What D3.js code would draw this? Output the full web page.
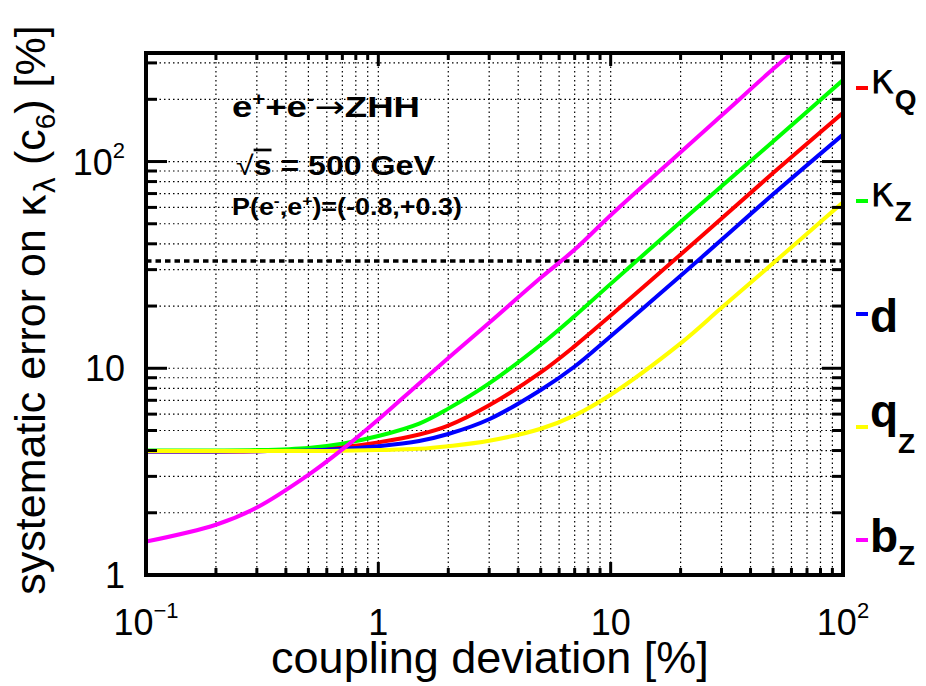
<!DOCTYPE html>
<html>
<head>
<meta charset="utf-8">
<script src="https://d3js.org/d3.v7.min.js"></script>
<style>
  body { margin: 0; background: #fff; }
  text { font-family: "Liberation Sans", Arial, sans-serif; }
  .greek { font-family: "DejaVu Sans", sans-serif; }
</style>
</head>
<body>
<svg width="926" height="686"></svg>
<script>
    // values: coupling deviation [%] -> systematic error [%]
    var xVals  = [0.1, 0.2, 0.3, 0.5, 0.7, 1, 1.5, 2, 3, 5, 7, 10, 20, 30, 50, 100];
    var kappaQ = [3.96, 3.96, 3.97, 4.03, 4.15, 4.38, 4.78, 5.28, 6.62, 9.55, 12.8, 18, 35.5, 53, 88, 172];
    var kappaZ = [4.0, 4.0, 4.02, 4.12, 4.32, 4.7, 5.4, 6.38, 8.45, 13.0, 17.9, 25.6, 51, 76, 125, 248];
    var dVals  = [3.96, 3.96, 3.97, 4.0, 4.08, 4.2, 4.45, 4.81, 5.67, 7.85, 10.2, 14.3, 28, 41.8, 69.4, 135];
    var qZ     = [3.98, 3.98, 3.98, 3.98, 3.99, 4.02, 4.08, 4.2, 4.46, 5.1, 5.92, 7.45, 13.2, 19.6, 32.2, 63.5];
    var bZx    = [0.1, 0.2, 0.3, 0.5, 0.7, 1, 1.5, 2, 3, 5, 7, 10, 20, 30, 50, 60.4];
    var bZ     = [1.45, 1.75, 2.12, 3.05, 4.05, 5.65, 8.45, 11.2, 16.6, 27.4, 37.5, 55, 111, 167, 280, 335];
    var threshold = 33;

    var seriesNames  = ["\u03ba", "\u03ba", "d", "q", "b"];
    var seriesSubs   = ["Q", "Z", "", "Z", "Z"];
    var seriesColors = ["#ff0000", "#00ff00", "#0000ff", "#ffff00", "#ff00ff"];

    var xTickVals = [0.1, 1, 10, 100];
    var xTickBase = ["10", "1", "10", "10"];
    var xTickSup  = ["\u22121", "", "", "2"];
    var yTickVals = [1, 10, 100];
    var yTickBase = ["1", "10", "10"];
    var yTickSup  = ["", "", "2"];

    var svg = d3.select("svg");
    var pLeft = 146, pRight = 843, pTop = 53, pBottom = 575;

    var x = d3.scaleLog().domain([0.1, 100]).range([pLeft, pRight]);
    var y = d3.scaleLog().domain([1, 335]).range([pBottom, pTop]);

    function isMajor(v) { var l = Math.log10(v); return Math.abs(l - Math.round(l)) < 1e-6; }

    svg.append("defs").append("clipPath").attr("id", "plot")
       .append("rect").attr("x", pLeft).attr("y", pTop)
       .attr("width", pRight - pLeft).attr("height", pBottom - pTop);

    var xInner = x.ticks().filter(function(v) { return v > 0.1 && v < 100; });
    var yInner = y.ticks().filter(function(v) { return v > 1; });

    // dotted grid
    var grid = svg.append("g").attr("stroke", "#000").attr("stroke-width", 1.2)
                  .attr("stroke-dasharray", "1.5,3");
    grid.selectAll(".gx").data(xInner).enter().append("line")
        .attr("x1", function(d) { return x(d); }).attr("x2", function(d) { return x(d); })
        .attr("y1", pTop).attr("y2", pBottom);
    grid.selectAll(".gy").data(yInner).enter().append("line")
        .attr("y1", function(d) { return y(d); }).attr("y2", function(d) { return y(d); })
        .attr("x1", pLeft).attr("x2", pRight);

    // threshold line
    svg.append("line")
       .attr("x1", pLeft).attr("x2", pRight)
       .attr("y1", y(threshold)).attr("y2", y(threshold))
       .attr("stroke", "#000").attr("stroke-width", 3.5).attr("stroke-dasharray", "5.5,4");

    // curves
    var line = d3.line()
                 .x(function(d) { return x(d[0]); })
                 .y(function(d) { return y(d[1]); })
                 .curve(d3.curveCatmullRom);

    var curves = [
        d3.zip(xVals, kappaQ),
        d3.zip(xVals, kappaZ),
        d3.zip(xVals, dVals),
        d3.zip(xVals, qZ),
        d3.zip(bZx, bZ)
    ];

    svg.append("g").attr("clip-path", "url(#plot)")
       .selectAll("path").data(curves).enter().append("path")
       .attr("d", line)
       .attr("fill", "none")
       .attr("stroke", function(d, i) { return seriesColors[i]; })
       .attr("stroke-width", 4);

    // ticks, inward on all four sides
    var ticks = svg.append("g").attr("stroke", "#000").attr("stroke-width", 3);
    xInner.forEach(function(v) {
        var len = isMajor(v) ? 13 : 7;
        ticks.append("line").attr("x1", x(v)).attr("x2", x(v)).attr("y1", pBottom).attr("y2", pBottom - len);
        ticks.append("line").attr("x1", x(v)).attr("x2", x(v)).attr("y1", pTop).attr("y2", pTop + len);
    });
    yInner.forEach(function(v) {
        var len = isMajor(v) ? 21 : 11;
        ticks.append("line").attr("y1", y(v)).attr("y2", y(v)).attr("x1", pLeft).attr("x2", pLeft + len);
        ticks.append("line").attr("y1", y(v)).attr("y2", y(v)).attr("x1", pRight).attr("x2", pRight - len);
    });

    // frame
    svg.append("rect")
       .attr("x", pLeft).attr("y", pTop)
       .attr("width", pRight - pLeft).attr("height", pBottom - pTop)
       .attr("fill", "none").attr("stroke", "#000").attr("stroke-width", 4);

    // tick labels
    xTickVals.forEach(function(v, i) {
        var t = svg.append("text").attr("x", x(v)).attr("y", 635)
                   .attr("text-anchor", "middle").attr("font-size", 36);
        t.append("tspan").text(xTickBase[i]);
        if (xTickSup[i]) t.append("tspan").attr("font-size", 22).attr("dy", -17).text(xTickSup[i]);
    });
    yTickVals.forEach(function(v, i) {
        var t = svg.append("text").attr("x", 125).attr("y", y(v) + 13)
                   .attr("text-anchor", "end").attr("font-size", 36);
        t.append("tspan").text(yTickBase[i]);
        if (yTickSup[i]) t.append("tspan").attr("font-size", 22).attr("dy", -17).text(yTickSup[i]);
    });

    // axis titles
    svg.append("text").attr("x", 490).attr("y", 673)
       .attr("text-anchor", "middle").attr("font-size", 45)
       .text("coupling deviation [%]");

    var yt = svg.append("text").attr("transform", "translate(45,310) rotate(-90)")
                .attr("text-anchor", "middle").attr("font-size", 43);
    yt.append("tspan").text("systematic error on ");
    yt.append("tspan").attr("class", "greek").attr("font-size", 40).text("\u03ba");
    yt.append("tspan").attr("class", "greek").attr("font-size", 28).attr("dy", 10).text("\u03bb");
    yt.append("tspan").attr("dy", -10).text(" (c");
    yt.append("tspan").attr("font-size", 28).attr("dy", 10).text("6");
    yt.append("tspan").attr("dy", -10).text(") [%]");

    // annotation text, stretched to the reference width
    function fit(sel, px, py, w) {
        var bb = sel.node().getBBox();
        var s = w / bb.width;
        sel.attr("transform", "translate(" + (px - bb.x * s) + "," + py + ") scale(" + s + ",1)");
    }

    var t1 = svg.append("text").attr("font-size", 30).attr("font-weight", "bold");
    t1.append("tspan").text("e");
    t1.append("tspan").attr("font-size", 18).attr("dy", -12).text("+");
    t1.append("tspan").attr("dy", 12).text("+e");
    t1.append("tspan").attr("font-size", 18).attr("dy", -12).text("-");
    t1.append("tspan").attr("dy", 12).attr("font-weight", "normal").attr("class", "greek").text("\u2192");
    t1.append("tspan").text("ZHH");
    fit(t1, 232, 117, 188);

    var t2 = svg.append("text").attr("font-size", 27).attr("font-weight", "bold");
    t2.append("tspan").attr("font-weight", "normal").text("\u221a");
    t2.append("tspan").style("text-decoration", "overline").text("s");
    t2.append("tspan").text(" = 500 GeV");
    fit(t2, 236, 175, 199);

    var t3 = svg.append("text").attr("font-size", 23).attr("font-weight", "bold");
    t3.append("tspan").text("P(e");
    t3.append("tspan").attr("font-size", 15).attr("dy", -9).text("-");
    t3.append("tspan").attr("dy", 9).text(",e");
    t3.append("tspan").attr("font-size", 15).attr("dy", -9).text("+");
    t3.append("tspan").attr("dy", 9).text(")=(-0.8,+0.3)");
    fit(t3, 232, 215, 230);

    // legend on the right
    var mainDy = [5, 5, 18, 0, 12];
    var subDy  = [16, 15, 0, 26, 13];
    seriesNames.forEach(function(name, i) {
        var ly = 88 + i * 113;
        svg.append("rect").attr("x", 856).attr("y", ly - 2)
           .attr("width", 12).attr("height", 4).attr("fill", seriesColors[i]);
        var t = svg.append("text").attr("x", 870).attr("y", ly + mainDy[i]);
        t.append("tspan").attr("font-size", i < 2 ? 42 : 46)
         .attr("class", i < 2 ? "greek" : null)
         .attr("font-weight", i < 2 ? "normal" : "bold").text(name);
        if (seriesSubs[i]) {
            t.append("tspan").attr("font-size", 28).attr("font-weight", "bold")
             .attr("dy", subDy[i]).text(seriesSubs[i]);
        }
    });
</script>
</body>
</html>
